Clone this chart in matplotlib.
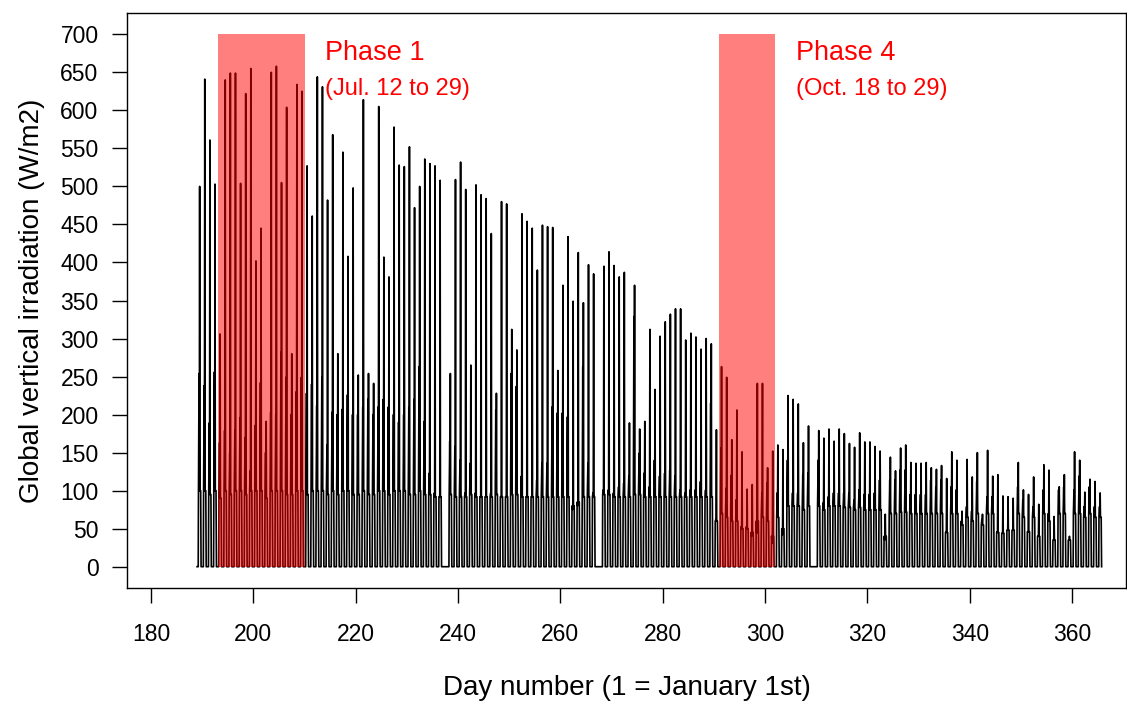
import matplotlib
matplotlib.use("Agg")
import matplotlib.pyplot as plt
from matplotlib.patches import Rectangle

plt.rcParams['font.family'] = ['Liberation Sans', 'DejaVu Sans']

# one value per day, day 189 to day 365 (W/m2)
first_day = 189
peak = [500, 641, 561, 503, 306, 640, 649, 649, 504, 622,
        655, 402, 445, 191, 650, 658, 505, 604, 280, 634,
        625, 527, 461, 644, 631, 482, 568, 280, 545, 408,
        498, 252, 614, 254, 241, 605, 407, 381, 578, 528,
        526, 552, 472, 500, 536, 530, 527, 508, 0, 254,
        509, 532, 496, 265, 502, 489, 484, 438, 228, 480,
        477, 312, 285, 464, 454, 445, 390, 449, 447, 446,
        258, 370, 434, 349, 413, 347, 397, 385, 0, 395,
        414, 396, 381, 387, 189, 370, 181, 191, 312, 233,
        303, 322, 332, 339, 339, 298, 307, 302, 286, 300,
        293, 180, 263, 249, 167, 206, 151, 102, 108, 241,
        241, 130, 152, 160, 154, 225, 220, 214, 163, 185,
        0, 179, 169, 181, 165, 181, 175, 162, 157, 176,
        164, 164, 158, 152, 69, 144, 126, 156, 160, 137,
        136, 136, 137, 130, 128, 133, 116, 151, 140, 73,
        141, 118, 150, 69, 153, 119, 121, 93, 92, 90,
        137, 101, 95, 118, 82, 134, 127, 66, 105, 121,
        40, 151, 140, 98, 115, 112, 97]

# morning shoulder before the peak
shoulder = [254, 238, 189, 256, 163, 179, 150, 180, 196, 170,
            126, 186, 242, 150, 203, 200, 282, 249, 200, 230,
            249, 228, 240, 212, 249, 160, 203, 200, 207, 226,
            200, 200, 210, 220, 200, 210, 220, 210, 200, 190,
            200, 210, 220, 263, 191, 123, 97, 92, 0, 165,
            158, 140, 97, 136, 97, 92, 92, 97, 206, 92,
            92, 254, 237, 119, 92, 92, 114, 136, 136, 210,
            202, 202, 197, 75, 80, 263, 136, 97, 0, 101,
            101, 97, 105, 110, 119, 329, 149, 123, 105, 140,
            119, 123, 127, 119, 101, 97, 101, 101, 112, 101,
            215, 62, 156, 103, 120, 88, 53, 53, 40, 44,
            97, 110, 31, 97, 42, 140, 97, 97, 121, 123,
            0, 140, 84, 92, 97, 97, 97, 97, 88, 101,
            95, 95, 97, 114, 35, 114, 114, 127, 127, 95,
            95, 95, 95, 114, 105, 114, 46, 105, 101, 60,
            79, 73, 112, 62, 92, 92, 46, 44, 48, 48,
            105, 88, 46, 79, 40, 101, 70, 35, 101, 105,
            35, 101, 119, 79, 105, 79, 79]

# diffuse level of the day
base = [100, 100, 95, 100, 90, 100, 95, 100, 100, 95,
        100, 100, 100, 90, 100, 100, 100, 95, 95, 100,
        100, 95, 100, 100, 100, 95, 100, 95, 100, 100,
        95, 95, 100, 95, 95, 100, 100, 95, 100, 100,
        100, 95, 95, 100, 95, 95, 92, 92, 0, 95,
        92, 92, 92, 95, 92, 92, 92, 92, 95, 92,
        92, 95, 95, 92, 92, 92, 92, 92, 92, 92,
        92, 92, 92, 80, 85, 92, 92, 92, 0, 95,
        95, 92, 92, 92, 92, 95, 95, 92, 92, 92,
        92, 92, 92, 92, 92, 92, 92, 92, 92, 92,
        92, 60, 70, 65, 60, 60, 50, 50, 45, 60,
        65, 60, 40, 65, 50, 80, 80, 80, 75, 80,
        0, 80, 75, 80, 80, 80, 78, 78, 75, 78,
        75, 75, 75, 75, 40, 70, 70, 72, 72, 70,
        70, 70, 70, 70, 70, 70, 45, 70, 70, 55,
        65, 60, 70, 55, 70, 70, 45, 44, 48, 48,
        70, 65, 46, 65, 40, 70, 60, 35, 70, 70,
        35, 70, 70, 65, 70, 65, 65]

phase_start = [193, 291]
phase_end = [210, 302]
phase_names = ["Phase 1", "Phase 4"]
phase_dates = ["(Jul. 12 to 29)", "(Oct. 18 to 29)"]

# where in the day each reading sits
day_frac = [0.0, 0.22, 0.27, 0.38, 0.43, 0.50, 0.56, 0.70, 0.78]

tt = []
yy = []
for i in range(len(peak)):
    d = first_day + i
    vals = [0, 0, base[i], shoulder[i], base[i], peak[i], base[i], base[i], 0]
    for f, v in zip(day_frac, vals):
        tt.append(d + f)
        yy.append(v)

fig = plt.figure(figsize=(11.27, 7.02), dpi=100)
ax = fig.add_axes([127 / 1127, 114 / 702, 999 / 1127, 575 / 702])

ax.plot(tt, yy, color='black', linewidth=1.2, zorder=2)

for k in range(len(phase_start)):
    ax.add_patch(Rectangle((phase_start[k], 0), phase_end[k] - phase_start[k], 700,
                           facecolor=(1, 0, 0, 0.5), edgecolor='none', zorder=3))
    ax.text(phase_end[k] + 4, 675, phase_names[k], color='red', fontsize=19.5,
            ha='left', va='center')
    ax.text(phase_end[k] + 4, 628, phase_dates[k], color='red', fontsize=17,
            ha='left', va='center')

ax.set_xlim(175.3, 370.55)
ax.set_ylim(-28, 728)
ax.set_xticks(range(180, 361, 20))
ax.set_yticks(range(0, 701, 50))
ax.tick_params(direction='out', length=10.5, width=1, labelsize=16.5, colors='black')
ax.tick_params(axis='x', pad=15)
ax.tick_params(axis='y', pad=10)
for s in ax.spines.values():
    s.set_linewidth(1)

ax.set_xlabel('Day number (1 = January 1st)', fontsize=20)
ax.set_ylabel('Global vertical irradiation (W/m2)', fontsize=20)
ax.xaxis.set_label_coords(0.5, -0.174)
ax.xaxis.label.set_va('center')
ax.yaxis.set_label_coords(-0.095, 0.5)
ax.yaxis.label.set_va('center')

fig.savefig('out.png', dpi=100)
